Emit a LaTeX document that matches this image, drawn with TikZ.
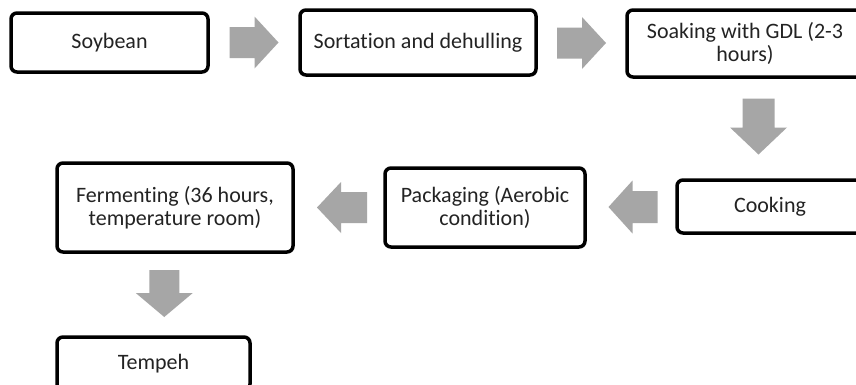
\documentclass[tikz,border=0pt]{standalone}
\usepackage{fontspec}
\setmainfont[Ligatures={NoCommon}]{Carlito}
\usetikzlibrary{calc}
\definecolor{arrgray}{RGB}{166,166,166}
\definecolor{txt}{RGB}{35,35,35}
\tikzset{
  stepbox/.style={draw=black, line width=3.5pt, rounded corners=6pt, fill=white,
    align=center, text=txt, inner sep=0pt, font=\fontsize{22}{23}\selectfont},
  pics/barrow/.style n args={4}{code={
    % #1 length, #2 total width, #3 shaft width, #4 head length
    \fill[arrgray] (-#1/2,-#3/2) -- (#1/2-#4,-#3/2) -- (#1/2-#4,-#2/2) -- (#1/2,0)
      -- (#1/2-#4,#2/2) -- (#1/2-#4,#3/2) -- (-#1/2,#3/2) -- cycle;
  }}
}
\begin{document}
\begin{tikzpicture}[x=1pt,y=-1pt]
\clip (0,0) rectangle (856,384);
\fill[white] (0,0) rectangle (856,384);
\node[stepbox, minimum width=197pt, minimum height=59pt] (soy) at (109.5,42.5) {Soybean};
\node[stepbox, minimum width=236pt, minimum height=65pt] (sort) at (418,42.5) {Sortation and dehulling};
\node[stepbox, minimum width=236pt, minimum height=67pt] (soak) at (745,43.5) {Soaking with GDL (2-3\\hours)};
\node[stepbox, minimum width=186pt, minimum height=53pt] (cook) at (770,206.5) {Cooking};
\node[stepbox, minimum width=200pt, minimum height=79pt] (pack) at (485,207.5) {Packaging (Aerobic\\condition)};
\node[stepbox, minimum width=236pt, minimum height=89pt] (ferm) at (175,207.5) {Fermenting (36 hours,\\temperature room)};
\node[stepbox, minimum width=193pt, minimum height=53pt] (temp) at (153.5,363.5) {Tempeh};
\pic at ($(soy.east)!0.5!(sort.west)$) {barrow={49}{52}{31}{24}};
\pic at ($(sort.east)!0.5!(soak.west)$) {barrow={49}{52}{31}{24}};
\pic[rotate=-90] at ($(soak.south)!0.5!(cook.north)+(1,-2)$) {barrow={56}{57}{32}{27}};
\pic[rotate=180] at ($(cook.west)!0.5!(pack.east)+(2,0)$) {barrow={49}{53}{32}{24}};
\pic[rotate=180] at ($(pack.west)!0.5!(ferm.east)+(3,0)$) {barrow={50}{51}{31}{24}};
\pic[rotate=-90] at ($(ferm.south)!0.5!(temp.north)+(0,-1)$) {barrow={47}{57}{30}{24}};
\end{tikzpicture}
\end{document}
